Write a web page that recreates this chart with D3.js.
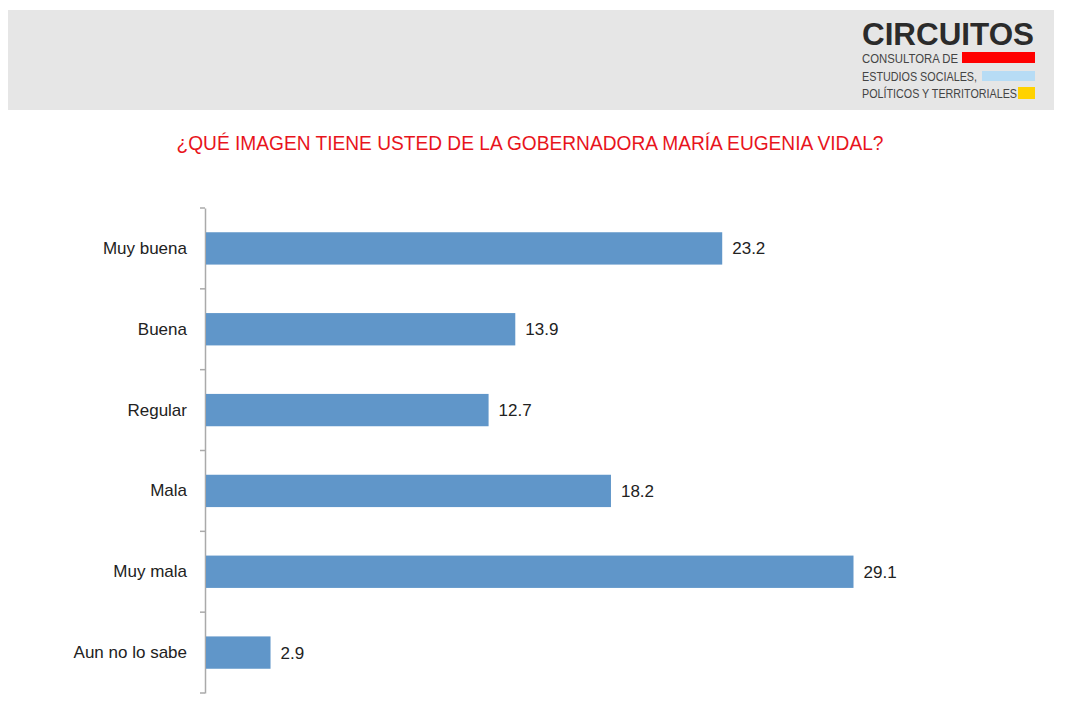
<!DOCTYPE html>
<html><head><meta charset="utf-8">
<script src="https://cdn.jsdelivr.net/npm/d3@7"></script>
<style>body{margin:0;background:#fff}svg{display:block}</style>
</head><body>
<svg id="c" width="1066" height="728"></svg>
<script>
const categories = ["Muy buena","Buena","Regular","Mala","Muy mala","Aun no lo sabe"];
const values = [23.2, 13.9, 12.7, 18.2, 29.1, 2.9];
const title = "¿QUÉ IMAGEN TIENE USTED DE LA GOBERNADORA MARÍA EUGENIA VIDAL?";
const logoLines = ["CONSULTORA DE","ESTUDIOS SOCIALES,","POLÍTICOS Y TERRITORIALES"];

const svg = d3.select("#c");
// header band
svg.append("rect").attr("x",8).attr("y",10).attr("width",1046).attr("height",100).attr("fill","#e6e6e6");
svg.append("text").attr("x",862).attr("y",45).attr("font-family","Liberation Sans Narrow, Liberation Sans, sans-serif")
  .attr("font-weight","bold").attr("font-size",31).attr("fill","#2b2b2b").attr("textLength",172).attr("lengthAdjust","spacingAndGlyphs").text("CIRCUITOS");
const lb = [63,81,98];
const lends = [958,977,1017];
logoLines.forEach((t,i)=>{
  svg.append("text").attr("x",862).attr("y",lb[i]).attr("font-family","Liberation Sans Narrow, Liberation Sans, sans-serif")
    .attr("font-size",13).attr("fill","#444").attr("textLength",lends[i]-862).attr("lengthAdjust","spacingAndGlyphs").text(t);
});
svg.append("rect").attr("x",962).attr("y",52).attr("width",73).attr("height",11).attr("fill","#ff0000");
svg.append("rect").attr("x",982).attr("y",71).attr("width",53).attr("height",10).attr("fill","#b7dcf5");
svg.append("rect").attr("x",1018).attr("y",87).attr("width",17).attr("height",12).attr("fill","#ffd200");

svg.append("text").attr("x",530).attr("y",150).attr("text-anchor","middle")
  .attr("font-family","Liberation Sans Narrow, Liberation Sans, sans-serif").attr("font-size",20).attr("fill","#e8141c")
  .attr("textLength",707).attr("lengthAdjust","spacingAndGlyphs").text(title);

const x0 = 206;
const x = d3.scaleLinear().domain([0, 29.1]).range([x0, 853.5]);
const y = d3.scaleBand().domain(categories).range([208, 693]).paddingInner(0.6).paddingOuter(0.3);

const ax = svg.append("g").attr("transform",`translate(${x0-1},0)`)
  .call(d3.axisLeft(y).tickSize(0).tickPadding(18).tickSizeOuter(0));
ax.select(".domain").attr("stroke","#aaa").attr("stroke-width",1.5);
ax.selectAll("text").attr("font-family","Liberation Sans, Arial, sans-serif").attr("font-size",17).attr("fill","#222");
// tick marks at band boundaries
const bounds = d3.range(categories.length+1).map(i => 208 + i*(693-208)/categories.length);
svg.append("g").selectAll("line").data(bounds).join("line")
  .attr("x1",x0-6).attr("x2",x0-1).attr("y1",d=>d).attr("y2",d=>d).attr("stroke","#aaa").attr("stroke-width",1.5);

svg.append("g").selectAll("rect").data(categories).join("rect")
  .attr("x",x0).attr("y",d=>y(d)).attr("height",y.bandwidth())
  .attr("width",(d,i)=>x(values[i])-x0).attr("fill","#6096c9");
svg.append("g").selectAll("text").data(categories).join("text")
  .attr("x",(d,i)=>x(values[i])+10).attr("y",d=>y(d)+y.bandwidth()/2).attr("dy","0.35em")
  .attr("font-family","Liberation Sans, Arial, sans-serif").attr("font-size",17).attr("fill","#222")
  .text((d,i)=>values[i].toFixed(1));
</script>
</body></html>
